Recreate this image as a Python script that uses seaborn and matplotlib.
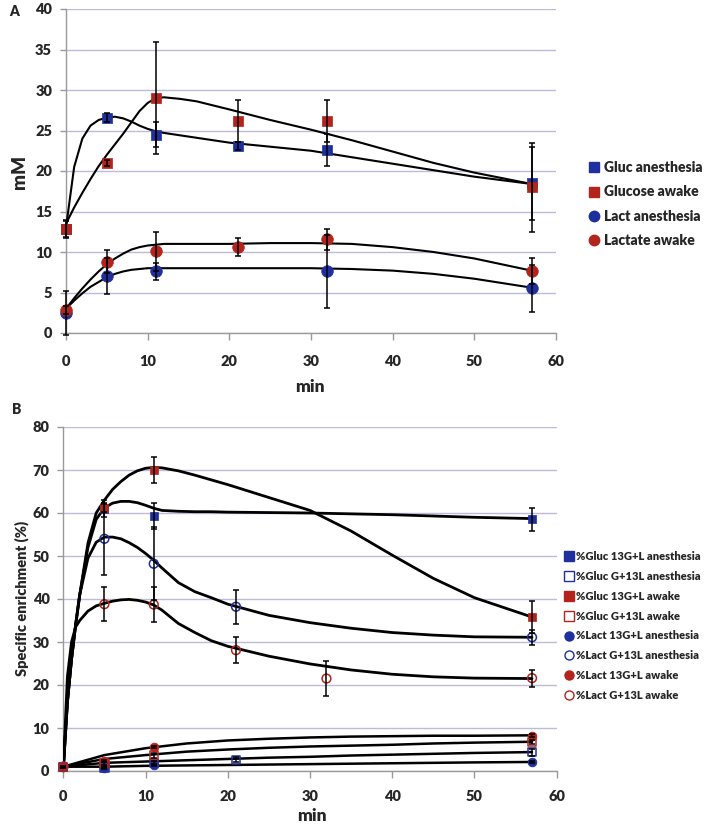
import numpy as np
import matplotlib
matplotlib.use("Agg")
import matplotlib.pyplot as plt
import seaborn as sns
from matplotlib.lines import Line2D

# ---------------------------------------------------------------------------
# DATA
# ---------------------------------------------------------------------------
# Panel A: concentrations (mM)
t_a = [0, 5, 11, 21, 32, 57]
gluc_anest = [12.8, 26.6, 24.5, 23.1, 22.6, 18.5]
gluc_anest_err = [1.0, 0.5, 1.5, 0.5, 2.0, 4.5]
gluc_awake = [12.8, 21.0, 29.0, 26.2, 26.2, 18.0]
gluc_awake_err = [1.1, 0.4, 6.9, 2.6, 2.6, 5.5]
lact_anest = [2.5, 7.0, 7.6, np.nan, 7.6, 5.5]
lact_anest_err = [2.7, 2.2, 1.0, np.nan, 4.5, 2.9]
lact_awake = [2.8, 8.8, 10.1, 10.6, 11.6, 7.6]
lact_awake_err = [0.5, 1.4, 2.4, 1.1, 1.3, 1.6]

# fitted curves, panel A
fit_t_a = [0, 1, 2, 3, 4, 5, 6, 7, 8, 9, 10, 11, 12, 14, 16, 18, 20, 25, 30, 35, 40, 45, 50, 57]
fit_gluc_anest = [13.0, 20.5, 24.0, 25.6, 26.3, 26.6, 26.7, 26.5, 26.1, 25.6, 25.2, 24.9,
                  24.7, 24.4, 24.1, 23.8, 23.5, 23.0, 22.5, 21.7, 20.9, 20.1, 19.3, 18.4]
fit_gluc_awake = [13.5, 15.5, 17.3, 19.0, 20.6, 22.0, 23.3, 24.6, 26.0, 27.4, 28.4, 29.0,
                  29.1, 28.9, 28.6, 28.1, 27.6, 26.3, 25.1, 23.8, 22.4, 21.0, 19.8, 18.4]
fit_lact_anest = [3.0, 4.0, 4.9, 5.7, 6.3, 6.9, 7.3, 7.6, 7.8, 7.9, 8.0, 8.0,
                  8.0, 8.0, 8.0, 8.0, 8.0, 8.0, 8.0, 7.9, 7.7, 7.3, 6.7, 5.6]
fit_lact_awake = [3.0, 4.3, 5.5, 6.6, 7.6, 8.5, 9.2, 9.8, 10.3, 10.6, 10.8, 10.9,
                  11.0, 11.0, 11.0, 11.0, 11.0, 11.1, 11.1, 11.0, 10.6, 10.0, 9.2, 7.7]

# Panel B: specific enrichment (%)
t_b4 = [0, 5, 11, 57]
t_b5 = [0, 5, 11, 21, 57]
t_b6 = [0, 5, 11, 21, 32, 57]
g13_anest = [1.0, 61.0, 59.3, 58.5]
g13_anest_err = [0.2, 2.0, 3.0, 2.7]
g_l13_anest = [1.0, 0.8, 1.9, 2.6, 4.4]
g_l13_anest_err = [0.2, 0.3, 0.5, 0.6, 0.8]
g13_awake = [1.0, 61.2, 70.0, 35.8]
g13_awake_err = [0.2, 1.0, 3.0, 3.7]
g_l13_awake = [1.0, 1.8, 3.6, 6.8]
g_l13_awake_err = [0.2, 0.3, 0.5, 0.5]
l13_anest = [1.0, 0.8, 1.4, 2.1]
l13_anest_err = [0.2, 0.2, 0.3, 0.3]
l_l13_anest = [1.0, 54.0, 48.2, 38.2, 31.1]
l_l13_anest_err = [0.2, 8.4, 8.5, 4.0, 1.8]
l13_awake = [1.0, 2.3, 5.6, 8.2]
l13_awake_err = [0.2, 0.3, 0.3, 0.4]
l_l13_awake = [1.0, 38.8, 38.7, 28.1, 21.5, 21.6]
l_l13_awake_err = [0.2, 4.0, 4.0, 3.0, 4.0, 2.0]

# fitted curves, panel B (upper)
fit_t_b = [0, 0.5, 1, 1.5, 2, 3, 4, 5, 6, 7, 8, 9, 10, 11, 12, 14, 16, 18, 20, 25, 30, 35, 40, 45, 50, 57]
fit_g13_anest = [0.5, 16, 26, 34, 41, 52, 58.5, 61.2, 62.3, 62.7, 62.7, 62.4, 61.8, 61.1, 60.6,
                 60.4, 60.3, 60.3, 60.2, 60.1, 60.0, 59.8, 59.6, 59.3, 59.0, 58.7]
fit_g13_awake = [0.5, 16, 26, 34, 41, 53, 60, 63, 65.5, 67.3, 68.8, 69.8, 70.4, 70.6, 70.5,
                 69.8, 68.8, 67.7, 66.6, 63.6, 60.6, 55.8, 50.2, 44.8, 40.3, 35.8]
fit_l_l13_anest = [0.5, 16, 26, 34, 41, 49.5, 53.2, 54.4, 54.4, 54.0, 53.1, 52.0, 50.6, 49.0, 47.2,
                   43.8, 41.7, 40.3, 38.8, 36.2, 34.5, 33.2, 32.2, 31.6, 31.2, 31.1]
fit_l_l13_awake = [0.5, 22, 30, 33.5, 35, 37.2, 38.4, 39.0, 39.5, 39.8, 39.9, 39.7, 39.3, 38.6, 37.4,
                   34.3, 32.2, 30.3, 29.0, 26.7, 24.9, 23.5, 22.5, 21.9, 21.6, 21.5]
# fitted curves, panel B (lower)
fit_t_low = [0, 5, 10, 15, 20, 25, 30, 35, 40, 45, 50, 57]
fit_l13_awake = [1.0, 3.7, 5.3, 6.4, 7.1, 7.5, 7.8, 8.0, 8.1, 8.2, 8.2, 8.3]
fit_g_l13_awake = [1.0, 2.8, 3.7, 4.5, 5.0, 5.4, 5.7, 5.9, 6.1, 6.4, 6.6, 6.8]
fit_g_l13_anest = [1.0, 1.9, 2.2, 2.5, 2.8, 3.1, 3.3, 3.6, 3.8, 4.0, 4.2, 4.4]
fit_l13_anest = [1.0, 1.0, 1.2, 1.3, 1.4, 1.5, 1.6, 1.7, 1.8, 1.9, 2.0, 2.1]

labels_a = ["Gluc anesthesia", "Glucose awake", "Lact anesthesia", "Lactate awake"]
labels_b = ["%Gluc 13G+L anesthesia", "%Gluc G+13L anesthesia", "%Gluc 13G+L awake",
            "%Gluc G+13L awake", "%Lact 13G+L anesthesia", "%Lact G+13L anesthesia",
            "%Lact 13G+L awake", "%Lact G+13L awake"]

# ---------------------------------------------------------------------------
# STYLE
# ---------------------------------------------------------------------------
sns.set_style("white")
plt.rcParams["font.family"] = ["Lato", "DejaVu Sans"]
plt.rcParams["font.weight"] = "heavy"
W = "heavy"

BLUE = "#1f2f9e"
RED = "#b3241c"
GRID = "#bcbcd8"
SPINE = "#9a9a9a"


def style_axis(ax, ymax, ystep, xpad):
    ax.set_xlim(0, 60)
    ax.set_ylim(0, ymax)
    ax.set_xticks(range(0, 61, 10))
    ax.set_yticks(range(0, ymax + 1, ystep))
    ax.yaxis.grid(True, color=GRID, lw=1.0)
    ax.xaxis.grid(False)
    ax.set_axisbelow(True)
    for s in ["top", "right"]:
        ax.spines[s].set_visible(False)
    for s in ["left", "bottom"]:
        ax.spines[s].set_color(SPINE)
        ax.spines[s].set_linewidth(1.0)
    ax.tick_params(axis="x", direction="out", length=5, width=1, color=SPINE, pad=xpad,
                   labelsize=10.5, bottom=True)
    ax.tick_params(axis="y", direction="out", length=4, width=1, color=SPINE, pad=6,
                   labelsize=10.5, left=True)
    for lab in ax.get_xticklabels() + ax.get_yticklabels():
        lab.set_fontweight(W)


def curve(ax, x, y, lw):
    sns.lineplot(x=x, y=y, ax=ax, color="black", lw=lw, sort=False,
                 estimator=None, legend=False, zorder=3)


def points(ax, x, y, err, color, marker, size, filled=True):
    ax.errorbar(x, y, yerr=err, fmt="none", ecolor="black", elinewidth=1.1,
                capsize=2.5, capthick=1.1, zorder=5, clip_on=False)
    if filled:
        sns.scatterplot(x=x, y=y, ax=ax, color=color, marker=marker, s=size,
                        edgecolor=color, linewidth=0.5, zorder=4, clip_on=False, legend=False)
    else:
        sns.scatterplot(x=x, y=y, ax=ax, color=color, marker=marker, s=size,
                        facecolor="none", edgecolor=color, linewidth=1.1, zorder=4,
                        clip_on=False, legend=False)


fig = plt.figure(figsize=(7.08, 8.27), dpi=100)
ax_a = fig.add_axes([66 / 708, 1 - 333 / 827, 490 / 708, 324 / 827])
ax_b = fig.add_axes([63.3 / 708, 1 - 771 / 827, 493.4 / 708, 344 / 827])

# ---------------------------------------------------------------------------
# PANEL A
# ---------------------------------------------------------------------------
for fy in [fit_gluc_anest, fit_gluc_awake, fit_lact_anest, fit_lact_awake]:
    curve(ax_a, fit_t_a, fy, 1.5)
points(ax_a, t_a, gluc_anest, gluc_anest_err, BLUE, "s", 55)
points(ax_a, t_a, gluc_awake, gluc_awake_err, RED, "s", 55)
points(ax_a, t_a, lact_anest, lact_anest_err, BLUE, "o", 70)
points(ax_a, t_a, lact_awake, lact_awake_err, RED, "o", 70)

style_axis(ax_a, 40, 5, 11)
ax_a.set_xlabel("")
ax_a.set_ylabel("")
fig.text(310 / 708, 1 - 387 / 827, "min", ha="center", va="center", fontsize=12.5, fontweight=W)
fig.text(20 / 708, 1 - 172 / 827, "mM", ha="center", va="center", rotation=90,
         fontsize=13.5, fontweight=W)
fig.text(14 / 708, 1 - 11 / 827, "A", ha="center", va="center", fontsize=10, fontweight=W)

handles_a = [
    Line2D([], [], ls="none", marker="s", ms=7, color=BLUE),
    Line2D([], [], ls="none", marker="s", ms=7, color=RED),
    Line2D([], [], ls="none", marker="o", ms=7.5, color=BLUE),
    Line2D([], [], ls="none", marker="o", ms=7.5, color=RED),
]
leg_a = fig.legend(handles_a, labels_a, loc="center left", bbox_to_anchor=(580 / 708, 1 - 204 / 827),
                   frameon=False, handlelength=1.0, handletextpad=0.25, borderpad=0,
                   labelspacing=0.8, prop={"size": 10, "weight": W})

# ---------------------------------------------------------------------------
# PANEL B
# ---------------------------------------------------------------------------
for fy in [fit_g13_anest, fit_g13_awake, fit_l_l13_anest, fit_l_l13_awake]:
    curve(ax_b, fit_t_b, fy, 2.0)
for fy in [fit_l13_awake, fit_g_l13_awake, fit_g_l13_anest, fit_l13_anest]:
    curve(ax_b, fit_t_low, fy, 1.8)

points(ax_b, t_b4, l13_anest, l13_anest_err, BLUE, "o", 40)
points(ax_b, t_b4, l13_awake, l13_awake_err, RED, "o", 40)
points(ax_b, t_b5, g_l13_anest, g_l13_anest_err, BLUE, "s", 36, filled=False)
points(ax_b, t_b4, g_l13_awake, g_l13_awake_err, RED, "s", 36, filled=False)
points(ax_b, t_b4, g13_anest, g13_anest_err, BLUE, "s", 40)
points(ax_b, t_b4, g13_awake, g13_awake_err, RED, "s", 40)
points(ax_b, t_b5, l_l13_anest, l_l13_anest_err, BLUE, "o", 40, filled=False)
points(ax_b, t_b6, l_l13_awake, l_l13_awake_err, RED, "o", 40, filled=False)

style_axis(ax_b, 80, 10, 9)
ax_b.set_xlabel("")
ax_b.set_ylabel("")
fig.text(312 / 708, 1 - 816 / 827, "min", ha="center", va="center", fontsize=12.5, fontweight=W)
fig.text(22 / 708, 1 - 598 / 827, "Specific enrichment (%)", ha="center", va="center",
         rotation=90, fontsize=10.5, fontweight=W)
fig.text(17 / 708, 1 - 409 / 827, "B", ha="center", va="center", fontsize=10, fontweight=W)

handles_b = []
for col, mk, filled in [(BLUE, "s", True), (BLUE, "s", False), (RED, "s", True), (RED, "s", False),
                        (BLUE, "o", True), (BLUE, "o", False), (RED, "o", True), (RED, "o", False)]:
    handles_b.append(Line2D([], [], ls="none", marker=mk, ms=6.5, color=col,
                            markerfacecolor=col if filled else "white", markeredgewidth=1.0))
leg_b = fig.legend(handles_b, labels_b, loc="center left", bbox_to_anchor=(558 / 708, 1 - 626 / 827),
                   frameon=False, handlelength=1.0, handletextpad=0.15, borderpad=0,
                   labelspacing=0.8, prop={"size": 8.0, "weight": W})

fig.savefig("out.png", dpi=100)
